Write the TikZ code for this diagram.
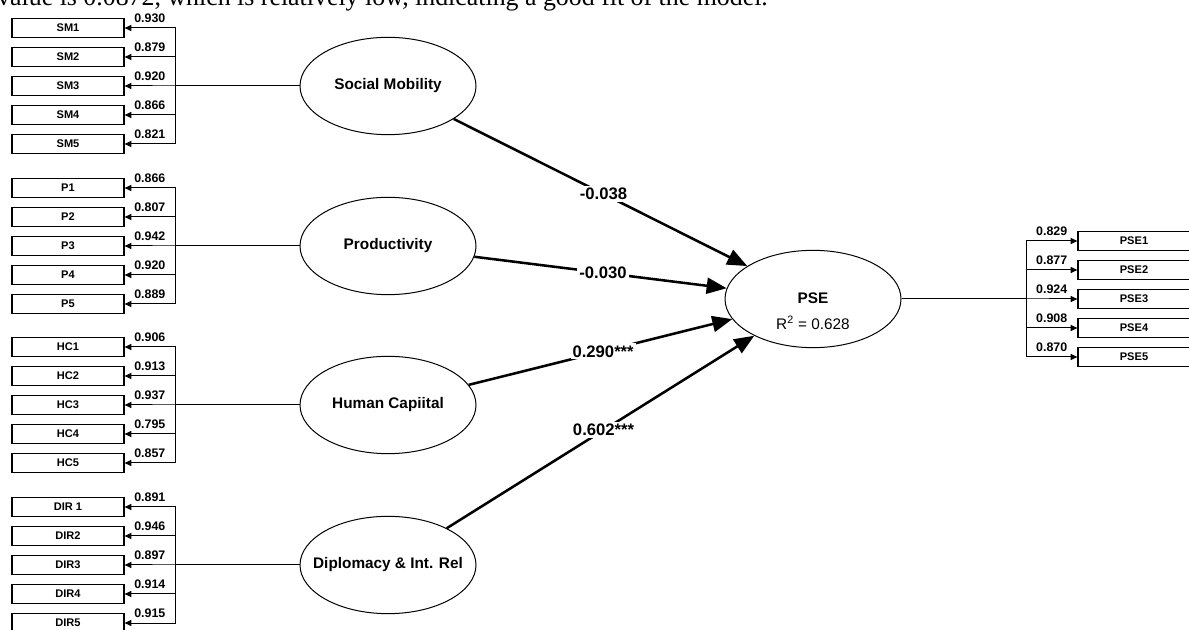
\documentclass[tikz,border=0pt]{standalone}
\usepackage{fontspec}
\setmainfont{Liberation Sans}
\newfontfamily\serifdoc{Liberation Serif}
\usetikzlibrary{shapes.geometric,arrows.meta}
\begin{document}
\begin{tikzpicture}[x=0.75pt,y=-0.75pt,
  lat/.style={ellipse,draw,line width=0.75pt,minimum width=132pt,minimum height=73pt,inner xsep=-10pt,inner ysep=0pt,font=\fontsize{11.5}{13}\selectfont\bfseries},
  ind/.style={rectangle,draw,line width=0.9pt,minimum width=84pt,minimum height=14.25pt,inner sep=0pt,font=\fontsize{8.3}{9}\selectfont\bfseries},
  link/.style={line width=0.75pt,-{Triangle[length=5pt,width=4.5pt]}},
  load/.style={font=\fontsize{9.3}{10}\selectfont\bfseries,inner sep=0pt,anchor=south,yshift=3.3pt},
  pathc/.style={line width=1.9pt,-{Triangle[length=15pt,width=12pt]}},
  coef/.style={fill=white,inner sep=1.5pt,font=\fontsize{12.5}{14}\selectfont\bfseries}]
\clip (0,0) rectangle (1189,630);
\node[anchor=base west,inner sep=0pt,font=\serifdoc\fontsize{19.4}{22}\selectfont] (cap) at (-3,6) {value is 0.0872, which is relatively low, indicating a good fit of the model.};
\coordinate (lbus) at (175,0);
\coordinate (rbus) at (1026,0);
% latent variables
\node[lat] (sm) at (388,86) {Social Mobility};
\node[lat] (p) at (388,246) {Productivity};
\node[lat] (hc) at (388,405) {Human Capiital};
\node[lat] (dir) at (388,565) {Diplomacy \& Int. Rel};
\node[lat] (pse) at (813,299) {};
\node[font=\fontsize{11.5}{13}\selectfont\bfseries,inner sep=0pt] (psename) at (813,298) {PSE};
\node[font=\fontsize{11.5}{13}\selectfont,inner sep=0pt] (pser2) at (813,323) {R\textsuperscript{2} = 0.628};
% left indicators
\foreach \g/\k/\y/\t/\l in {sm/1/28/SM1/0.930, sm/2/57/SM2/0.879, sm/3/86/SM3/0.920, sm/4/115/SM4/0.866, sm/5/144/SM5/0.821,
  p/1/188/P1/0.866, p/2/217/P2/0.807, p/3/246/P3/0.942, p/4/275/P4/0.920, p/5/304/P5/0.889,
  hc/1/347/HC1/0.906, hc/2/376/HC2/0.913, hc/3/405/HC3/0.937, hc/4/434/HC4/0.795, hc/5/463/HC5/0.857,
  dir/1/507/DIR 1/0.891, dir/2/536/DIR2/0.946, dir/3/565/DIR3/0.897, dir/4/594/DIR4/0.914, dir/5/623/DIR5/0.915}{
  \node[ind] (\g\k) at (68,\y) {\t};
  \draw[link] (\g.west) -- (\g.west -| lbus) |- (\g\k.east) node[load,pos=0.75] {\l};
}
% right indicators
\foreach \k/\y/\l in {1/241/0.829, 2/270/0.877, 3/299/0.924, 4/328/0.908, 5/357/0.870}{
  \node[ind] (pse\k) at (1134,\y) {PSE\k};
  \draw[link] (pse.east) -- (pse.east -| rbus) |- (pse\k.west) node[load,pos=0.75] {\l};
}
% structural paths
\draw[pathc] (sm) -- node[coef,pos=0.51] {-0.038} (pse);
\draw[pathc] (p) -- node[coef,pos=0.51] {-0.030} (pse);
\draw[pathc] (hc) -- node[coef,pos=0.51] {0.290***} (pse);
\draw[pathc] (dir) -- node[coef,pos=0.51] {0.602***} (pse);
\end{tikzpicture}
\end{document}
